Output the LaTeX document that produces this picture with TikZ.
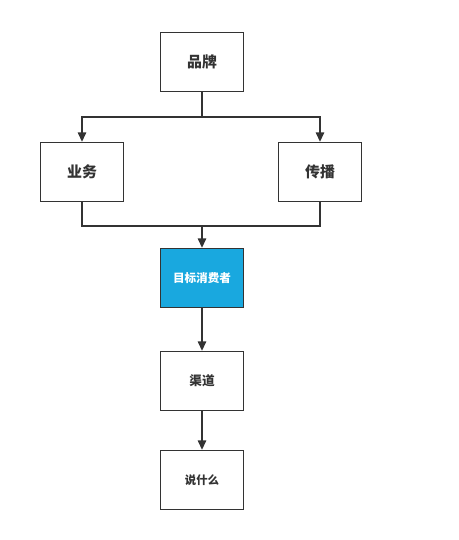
\documentclass[tikz,border=0pt]{standalone}
\usepackage{fontspec}
\newfontfamily\cjk{Noto Sans CJK SC}
\usetikzlibrary{arrows.meta,positioning}
\definecolor{linegray}{HTML}{333333}
\definecolor{skyblue}{HTML}{19A8DF}

\begin{document}
\begin{tikzpicture}[x=0.02cm,y=-0.02cm,
    box/.style={draw=linegray, line width=0.8pt, minimum width=1.66cm, minimum height=1.18cm,
      font=\cjk\bfseries\fontsize{#1}{10}\selectfont, text=linegray},
    box/.default=8.5,
    link/.style={draw=linegray, line width=0.8pt},
    arr/.style={link, -{Triangle[length=1.9mm,width=1.7mm]}}]
        \useasboundingbox (0,0) rectangle (459,540);
        \node[box] (brand) at (202,62) {品牌};
        \node[box] (biz) at (82,172) {业务};
        \node[box] (spread) at (320,172) {传播};
        \node[box=6.6, fill=skyblue, text=white] (target) at (202,278) {目标消费者};
        \node[box=7.2] (channel) at (202,381) {渠道};
        \node[box=6.5] (say) at (202,480) {说什么};

        \coordinate (split) at (202,117);
        \coordinate (join) at (202,226);
        \draw[link] (brand) -- (split);
        \draw[arr] (split) -| (biz);
        \draw[arr] (split) -| (spread);
        \draw[link] (biz) |- (join);
        \draw[link] (spread) |- (join);
        \draw[arr] (join) -- (target);
        \draw[arr] (target) -- (channel);
        \draw[arr] (channel) -- (say);
    \end{tikzpicture}
\end{document}
